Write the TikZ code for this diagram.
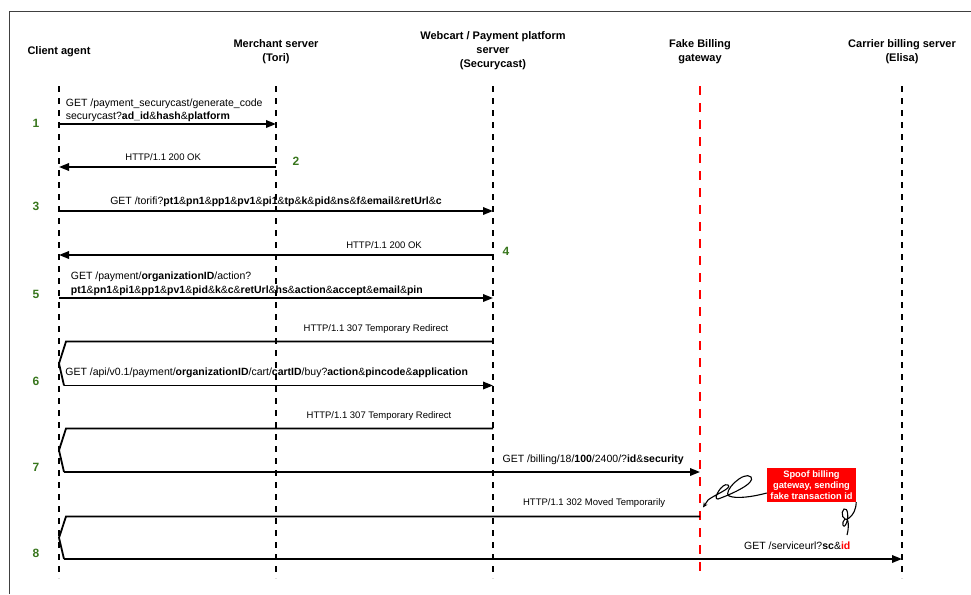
\documentclass[tikz,border=0pt]{standalone}
\usepackage{fontspec}
\setmainfont{Liberation Sans}
\usetikzlibrary{arrows.meta,positioning,calc}
\definecolor{stepgreen}{RGB}{56,118,29}
\definecolor{framegray}{RGB}{64,64,64}

\begin{document}
\begin{tikzpicture}[x=1pt,y=-1pt,>={Triangle[length=10pt,width=7.5pt]},
  lifeline/.style={line width=1.8pt,dash pattern=on 6pt off 6pt},
  fakeline/.style={line width=2.6pt,red,dash pattern=on 9pt off 8pt},
  msg/.style={line width=1.8pt},
  head/.style={font=\bfseries\fontsize{11}{14}\selectfont,align=center},
  num/.style={font=\bfseries\fontsize{12}{14}\selectfont,text=stepgreen},
  lbl/.style={font=\fontsize{10.5}{13.5}\selectfont,inner sep=0pt},
  sml/.style={font=\fontsize{9.5}{11}\selectfont,inner sep=0pt,anchor=base},
  curl/.style={line width=1.1pt}]

\useasboundingbox (0,0) rectangle (971,594);
\draw[framegray,line width=1pt] (971,12) -- (9,12) -- (9,594);

% headers
\node[head] (client) at (59,52) {Client agent};
\node[head] (tori) at (276,51.5) {Merchant server\\(Tori)};
\node[head] (secury) at (493,51) {Webcart / Payment platform\\server\\(Securycast)};
\node[head] (fake) at (700,51.5) {Fake Billing\\gateway};
\node[head] (elisa) at (902,51.5) {Carrier billing server\\(Elisa)};

% lifelines
\foreach \n/\x in {C/59,M/276,W/493,E/902}{
  \coordinate (\n) at (\x,86);
  \coordinate (\n b) at (\x,578);
  \draw[lifeline] (\n) -- (\n b);
}
\coordinate (F) at (700,86);
\coordinate (Fb) at (700,578);
\draw[fakeline] (F) -- (Fb);

% message rows
\foreach \n/\y in {r1/124,r2/167,r3/211,r4/255,r5/298,r6a/341.5,r6/385.5,
                   r7a/428.5,r7/472,r8a/516.5,r8/559}
  \coordinate (\n) at (0,\y);

% step numbers
\node[num] (n1) at (36,123) {1};
\node[num] (n2) at (296,161) {2};
\node[num] (n3) at (36,206) {3};
\node[num] (n4) at (506,251) {4};
\node[num] (n5) at (36,294) {5};
\node[num] (n6) at (36,381) {6};
\node[num] (n7) at (36,467) {7};
\node[num] (n8) at (36,553) {8};

% 1 - 5
\draw[msg,->] (C |- r1) -- node[lbl,pos=0,above right=1pt and 6pt,align=left]
  {GET /payment\_securycast/generate\_code\\securycast?\textbf{ad\_id}\&\textbf{hash}\&\textbf{platform}} (M |- r1);
\draw[msg,->] (M |- r2) -- node[sml,pos=0.52,yshift=6.6pt] {HTTP/1.1 200 OK} (C |- r2);
\draw[msg,->] (C |- r3) -- node[lbl,pos=0.5,anchor=base,yshift=6.4pt]
  {GET /torifi?\textbf{pt1}\&\textbf{pn1}\&\textbf{pp1}\&\textbf{pv1}\&\textbf{pi1}\&\textbf{tp}\&\textbf{k}\&\textbf{pid}\&\textbf{ns}\&\textbf{f}\&\textbf{email}\&\textbf{retUrl}\&\textbf{c}} (W |- r3);
\draw[msg,->] (W |- r4) -- node[sml,pos=0.251,yshift=6.6pt] {HTTP/1.1 200 OK} (C |- r4);
\draw[msg,->] (C |- r5) -- node[lbl,pos=0,above right=1.5pt and 11pt,align=left]
  {GET /payment/\textbf{organizationID}/action?\\\textbf{pt1}\&\textbf{pn1}\&\textbf{pi1}\&\textbf{pp1}\&\textbf{pv1}\&\textbf{pid}\&\textbf{k}\&\textbf{c}\&\textbf{retUrl}\&\textbf{hs}\&\textbf{action}\&\textbf{accept}\&\textbf{email}\&\textbf{pin}} (W |- r5);

% 6
\draw[msg] (W |- r6a) -- node[sml,pos=0.274,yshift=10pt] {HTTP/1.1 307 Temporary Redirect}
  ($(C |- r6a)+(7,0)$) -- ($(C |- r6a)!.5!(C |- r6)$) -- ($(C |- r6)+(5,0)$) coordinate (s6);
\draw[msg,->] (s6) -- node[lbl,pos=0,anchor=base west,xshift=0.5pt,yshift=10pt]
  {GET /api/v0.1/payment/\textbf{organizationID}/cart/\textbf{cartID}/buy?\textbf{action}\&\textbf{pincode}\&\textbf{application}} (W |- r6);

% 7
\draw[msg] (W |- r7a) -- node[sml,pos=0.267,yshift=10pt] {HTTP/1.1 307 Temporary Redirect}
  ($(C |- r7a)+(7,0)$) -- ($(C |- r7a)!.5!(C |- r7)$) -- ($(C |- r7)+(5,0)$) coordinate (s7);
\draw[msg,->] (s7) -- node[lbl,pos=0.832,anchor=base,yshift=9.2pt]
  {GET /billing/18/\textbf{100}/2400/?\textbf{id}\&\textbf{security}} (F |- r7);

% 8
\draw[msg] (F |- r8a) -- node[sml,pos=0.167,yshift=11pt] {HTTP/1.1 302 Moved Temporarily}
  ($(C |- r8a)+(7,0)$) -- ($(C |- r8a)!.5!(C |- r8)$) -- ($(C |- r8)+(5,0)$) coordinate (s8);
\draw[msg,->] (s8) -- node[lbl,pos=0.875,anchor=base,yshift=9.2pt]
  {GET /serviceurl?\textbf{sc}\&\textbf{\textcolor{red}{id}}} (E |- r8);

% spoof note
\node[fill=red,text=white,font=\bfseries\fontsize{9.3}{11.3}\selectfont,align=center,
  minimum width=89pt,minimum height=34pt,inner sep=0pt] (spoof) at (811.5,485)
  {Spoof billing\\gateway, sending\\fake transaction id};
\draw[curl,-{Stealth[length=5pt,width=4.5pt]}] ($(spoof.west)+(0,8)$)
  .. controls (752,497) and (736,499) .. (729,496)
  .. controls (722,492) and (744,470) .. (751,477)
  .. controls (756,483) and (732,494) .. (718,499)
  .. controls (712,500) and (722,482) .. (728,485)
  .. controls (733,488) and (714,495) .. (708,500)
  -- ($(F |- r8a)+(3,-9)$);
\draw[curl] (spoof.south east)
  .. controls (856,510) and (853,515) .. (849,518)
  .. controls (843,523) and (840,512) .. (844,509)
  .. controls (848,507) and (849,518) .. (846,524)
  .. controls (843,530) and (841,522) .. (845,519)
  .. controls (849,517) and (849,528) .. (847,535);
\end{tikzpicture}
\end{document}
